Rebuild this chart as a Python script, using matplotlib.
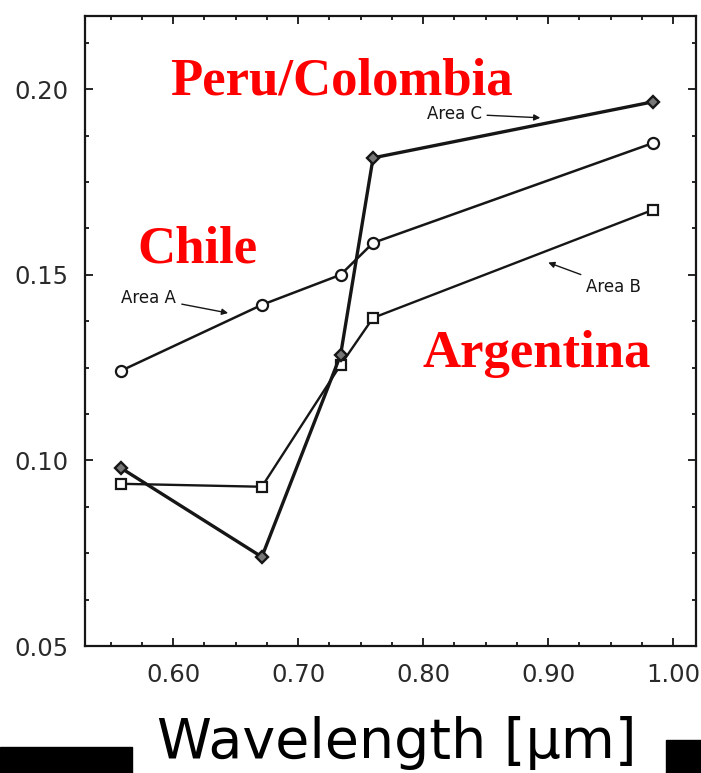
import matplotlib
matplotlib.use("Agg")
import matplotlib.pyplot as plt
from matplotlib.patches import Rectangle
from matplotlib.ticker import MultipleLocator, FormatStrFormatter

# reflectance per band for the three study areas
wavelength = [0.558, 0.671, 0.734, 0.760, 0.984]
area_a = [0.1241, 0.1419, 0.1500, 0.1586, 0.1855]
area_b = [0.0937, 0.0929, 0.1257, 0.1384, 0.1675]
area_c = [0.0980, 0.0740, 0.1284, 0.1815, 0.1966]

area_names = ["Area A", "Area B", "Area C"]
region_names = ["Chile", "Argentina", "Peru/Colombia"]
x_ticks = [0.60, 0.70, 0.80, 0.90, 1.00]
y_ticks = [0.05, 0.10, 0.15, 0.20]

ink = "#161616"

fig = plt.figure(figsize=(7.01, 7.73), dpi=100)
ax = fig.add_axes([85 / 701, 127 / 773, 611 / 701, 630.3 / 773])

ax.plot(wavelength, area_a, color=ink, lw=1.8, marker="o", ms=8,
        mfc="white", mec=ink, mew=1.6)
ax.plot(wavelength, area_b, color=ink, lw=1.7, marker="s", ms=6.5,
        mfc="white", mec=ink, mew=1.6)
ax.plot(wavelength, area_c, color=ink, lw=2.4, marker="D", ms=6,
        mfc="#777777", mec=ink, mew=1.7)

ax.set_xlim(0.5295, 1.0184)
ax.set_ylim(0.05, 0.2198)

ax.set_xticks(x_ticks)
ax.set_yticks(y_ticks)
ax.xaxis.set_minor_locator(MultipleLocator(0.025))
ax.yaxis.set_minor_locator(MultipleLocator(0.0125))
ax.xaxis.set_major_formatter(FormatStrFormatter("%.2f"))
ax.yaxis.set_major_formatter(FormatStrFormatter("%.2f"))
ax.tick_params(which="both", direction="in", top=True, right=True,
               color=ink, width=1.3)
ax.tick_params(which="major", length=6, labelsize=17.5,
               labelcolor="#2a2a2a", pad=12)
ax.tick_params(which="minor", length=3)
for s in ax.spines.values():
    s.set_linewidth(1.6)
    s.set_color(ink)

# small labels with arrows pointing at each curve
arrow = dict(arrowstyle="-|>", color=ink, lw=1.0, mutation_scale=9,
             shrinkA=2, shrinkB=0)
small = dict(ha="center", va="center", fontsize=12, color=ink)
ax.annotate(area_names[0], xy=(0.644, 0.1397), xytext=(0.5806, 0.1438),
            arrowprops=arrow, **small)
ax.annotate(area_names[1], xy=(0.9002, 0.1533), xytext=(0.9525, 0.1468),
            arrowprops=arrow, **small)
ax.annotate(area_names[2], xy=(0.8938, 0.1923), xytext=(0.8248, 0.1934),
            arrowprops=arrow, **small)

red = dict(color="red", fontsize=38, fontweight="bold",
           family="Liberation Serif", va="baseline", ha="left")
ax.text(0.5712, 0.1532, region_names[0], **red)
ax.text(0.7994, 0.1252, region_names[1], **red)
ax.text(0.5976, 0.1985, region_names[2], **red)

fig.text(397 / 701, 1 - 758 / 773, "Wavelength [\u03bcm]", fontsize=40,
         ha="center", va="baseline", color="black")

# black bars along the bottom edge
fig.patches.append(Rectangle((0, 0), 132 / 701, 26 / 773,
                             transform=fig.transFigure, color="black"))
fig.patches.append(Rectangle((666 / 701, 0), 35 / 701, 33 / 773,
                             transform=fig.transFigure, color="black"))

fig.savefig("out.png", dpi=100)
